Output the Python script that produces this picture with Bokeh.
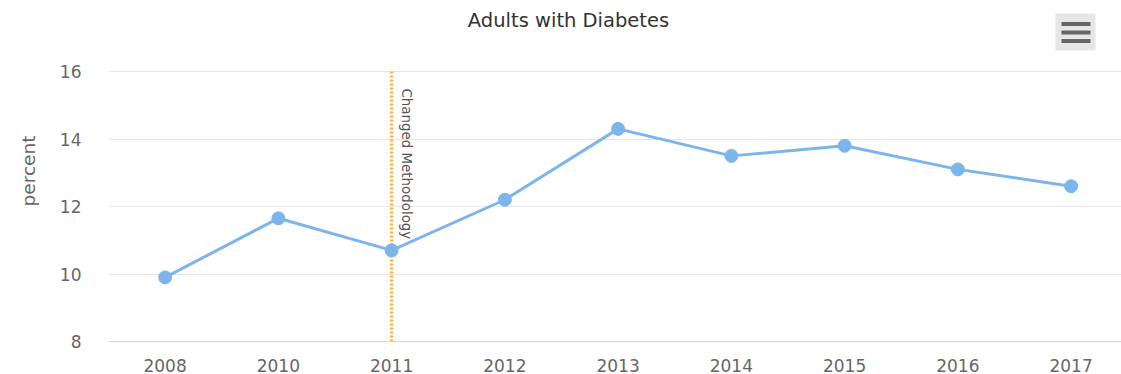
import numpy as np
from bokeh.plotting import figure
from bokeh.models import Range1d, FixedTicker, Label
from bokeh.core.properties import value
from bokeh.embed import file_html
from bokeh.resources import INLINE

# ---- data ----
years = ["2008", "2010", "2011", "2012", "2013", "2014", "2015", "2016", "2017"]
percent = [9.9, 11.65, 10.7, 12.2, 14.3, 13.5, 13.8, 13.1, 12.6]
y_ticks = [8, 10, 12, 14, 16]
marker_year = "2011"
marker_label = "Changed Methodology"
title_text = "Adults with Diabetes"
y_title = "percent"

FONT = "DejaVu Sans"

# ---- layout ----
W, H = 1121, 374
ML, MB = 108, 33
frame_w = W - ML
frame_h = H - MB
band = 113.25          # px per category
ppu = 33.75            # px per y unit
x_start = -0.5
x_end = x_start + frame_w / band
y_start = y_ticks[0]
y_end = y_start + frame_h / ppu

def sx(px):  # window px -> data x
    return x_start + (px - ML) / band

def sy(py):  # window px -> data y
    return y_end - py / ppu

idx = list(range(len(years)))

p = figure(width=W, height=H, output_backend="svg", toolbar_location=None,
           x_range=Range1d(x_start, x_end), y_range=Range1d(y_start, y_end),
           min_border_left=ML, min_border_right=0, min_border_top=0,
           min_border_bottom=MB)
p.outline_line_color = None
p.background_fill_color = "white"
p.border_fill_color = "white"

# grid
p.xgrid.visible = False
p.ygrid.ticker = FixedTicker(ticks=y_ticks)
p.ygrid.grid_line_color = "#e6e6e6"
p.ygrid.grid_line_width = 1

# x axis
p.xaxis.ticker = FixedTicker(ticks=idx)
p.xaxis.major_label_overrides = {i: y for i, y in zip(idx, years)}
p.xaxis.axis_line_color = "#ccd6eb"
p.xaxis.axis_line_width = 1
p.xaxis.major_tick_line_color = None
p.xaxis.minor_tick_line_color = None
p.xaxis.major_label_standoff = 11
p.xaxis.major_label_text_font = FONT
p.xaxis.major_label_text_font_size = "17px"
p.xaxis.major_label_text_color = "#666666"

# y axis
p.yaxis.ticker = FixedTicker(ticks=y_ticks)
p.yaxis.axis_line_color = None
p.yaxis.major_tick_line_color = None
p.yaxis.minor_tick_line_color = None
p.yaxis.major_label_standoff = 21
p.yaxis.major_label_text_font = FONT
p.yaxis.major_label_text_font_size = "17px"
p.yaxis.major_label_text_color = "#666666"
p.yaxis.axis_label = y_title
p.yaxis.axis_label_text_font = FONT
p.yaxis.axis_label_text_font_size = "18.5px"
p.yaxis.axis_label_text_font_style = "normal"
p.yaxis.axis_label_text_color = "#666666"
p.yaxis.axis_label_standoff = 18

# plot line for changed methodology
mi = years.index(marker_year)
p.segment(x0=[mi], y0=[y_ticks[0]], x1=[mi], y1=[y_ticks[-1]],
          line_color="#ffa931", line_width=3, line_dash="2 2")
p.text(x=[mi], y=[sy(88)], text=[marker_label], angle=-np.pi / 2,
       x_offset=15, text_align="left", text_baseline="middle",
       text_font=value(FONT), text_font_size="13.4px", text_color="#555555")

# series
p.line(idx, percent, line_color="#7cb5ec", line_width=3)
p.scatter(idx, percent, size=13, fill_color="#7cb5ec", line_color="#7cb5ec")

# title
p.add_layout(Label(x=sx(568), y=sy(20), text=title_text, text_align="center",
                   text_baseline="middle", text_font=FONT, text_font_size="19.5px",
                   text_color="#333333"))

# context menu button
p.rect(x=[sx(1075)], y=[sy(31.5)], width=40, height=37, width_units="screen",
       height_units="screen", fill_color="#e6e6e6", line_color=None)
p.rect(x=[sx(1075.5)] * 3, y=[sy(23.5), sy(32), sy(40.5)], width=29, height=4,
       width_units="screen", height_units="screen", fill_color="#666666",
       line_color=None)

open("out.html", "w").write(file_html(p, INLINE))
